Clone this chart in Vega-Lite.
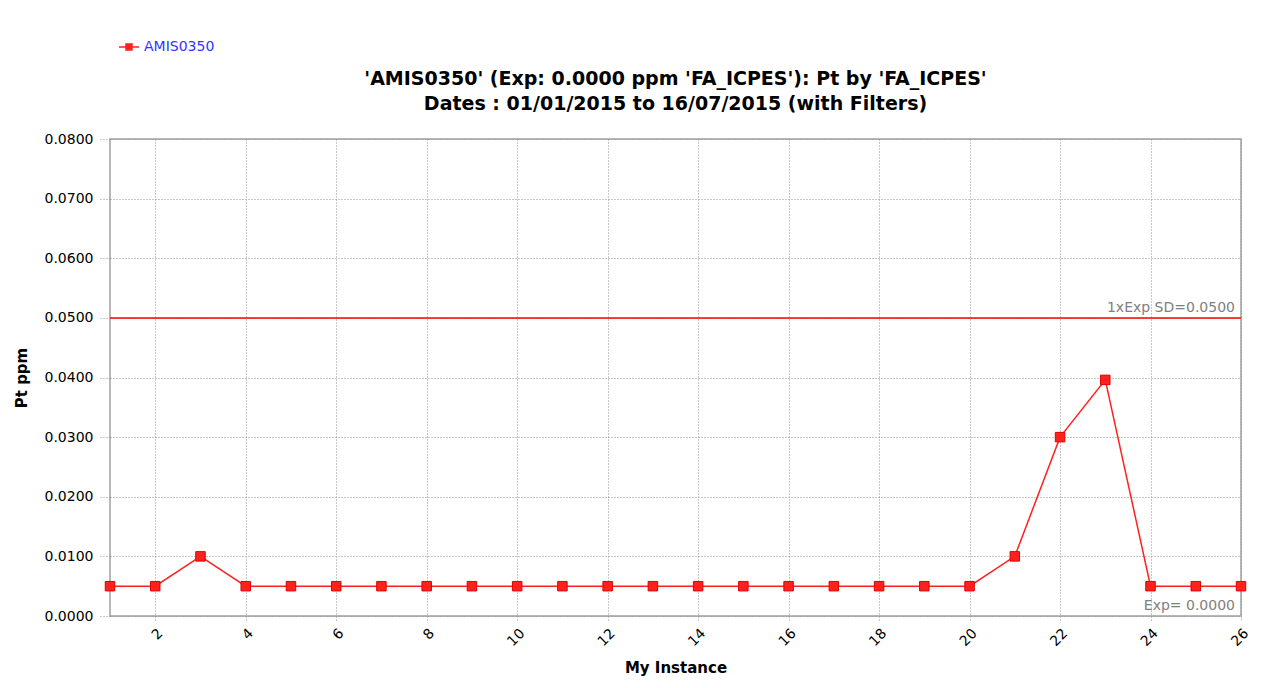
{
  "$schema": "https://vega.github.io/schema/vega-lite/v6.json",
  "autosize": "none",
  "width": 1131,
  "height": 477,
  "padding": {"left": 110, "top": 139, "right": 46, "bottom": 72},
  "background": "white",
  "config": {
    "font": "DejaVu Sans",
    "view": {"stroke": "#a0a0a0", "strokeWidth": 1.5},
    "axis": {"labelFont": "DejaVu Sans", "titleFont": "DejaVu Sans"}
  },
  "title": {
    "text": ["'AMIS0350' (Exp: 0.0000 ppm 'FA_ICPES'): Pt by 'FA_ICPES'", "Dates : 01/01/2015 to 16/07/2015 (with Filters)"],
    "font": "DejaVu Sans",
    "fontSize": 19,
    "fontWeight": "bold",
    "color": "#000000",
    "anchor": "middle",
    "lineHeight": 25,
    "offset": 28,
    "dy": 106
  },
  "datasets": {
    "points": [
      {"instance": 1, "pt": 0.005, "series": "AMIS0350"},
      {"instance": 2, "pt": 0.005, "series": "AMIS0350"},
      {"instance": 3, "pt": 0.01, "series": "AMIS0350"},
      {"instance": 4, "pt": 0.005, "series": "AMIS0350"},
      {"instance": 5, "pt": 0.005, "series": "AMIS0350"},
      {"instance": 6, "pt": 0.005, "series": "AMIS0350"},
      {"instance": 7, "pt": 0.005, "series": "AMIS0350"},
      {"instance": 8, "pt": 0.005, "series": "AMIS0350"},
      {"instance": 9, "pt": 0.005, "series": "AMIS0350"},
      {"instance": 10, "pt": 0.005, "series": "AMIS0350"},
      {"instance": 11, "pt": 0.005, "series": "AMIS0350"},
      {"instance": 12, "pt": 0.005, "series": "AMIS0350"},
      {"instance": 13, "pt": 0.005, "series": "AMIS0350"},
      {"instance": 14, "pt": 0.005, "series": "AMIS0350"},
      {"instance": 15, "pt": 0.005, "series": "AMIS0350"},
      {"instance": 16, "pt": 0.005, "series": "AMIS0350"},
      {"instance": 17, "pt": 0.005, "series": "AMIS0350"},
      {"instance": 18, "pt": 0.005, "series": "AMIS0350"},
      {"instance": 19, "pt": 0.005, "series": "AMIS0350"},
      {"instance": 20, "pt": 0.005, "series": "AMIS0350"},
      {"instance": 21, "pt": 0.01, "series": "AMIS0350"},
      {"instance": 22, "pt": 0.03, "series": "AMIS0350"},
      {"instance": 23, "pt": 0.0396, "series": "AMIS0350"},
      {"instance": 24, "pt": 0.005, "series": "AMIS0350"},
      {"instance": 25, "pt": 0.005, "series": "AMIS0350"},
      {"instance": 26, "pt": 0.005, "series": "AMIS0350"}
    ],
    "refs": [
      {"instance": 26, "pt": 0.05, "label": "1xExp SD=0.0500"},
      {"instance": 26, "pt": 0.0, "label": "Exp= 0.0000"}
    ]
  },
  "layer": [
    {
      "data": {"name": "points"},
      "mark": {"type": "line", "strokeWidth": 1.5, "clip": false},
      "encoding": {
        "x": {
          "field": "instance", "type": "quantitative",
          "scale": {"domain": [1, 26], "nice": false, "zero": false},
          "axis": {
            "values": [2, 4, 6, 8, 10, 12, 14, 16, 18, 20, 22, 24, 26],
            "title": "My Instance",
            "titleFontSize": 15, "titleFontWeight": "bold", "titleColor": "#000",
            "titleY": 44,
            "labelAngle": -45, "labelFontSize": 14, "labelColor": "#000",
            "labelPadding": 4,
            "domain": false,
            "tickDash": [1, 2], "tickColor": "#909090", "tickSize": 6,
            "grid": true, "gridDash": [1, 2], "gridColor": "#909090", "gridOpacity": 1
          }
        },
        "y": {
          "field": "pt", "type": "quantitative",
          "scale": {"domain": [0, 0.08], "nice": false},
          "axis": {
            "values": [0, 0.01, 0.02, 0.03, 0.04, 0.05, 0.06, 0.07, 0.08],
            "format": ".4f",
            "title": "Pt ppm",
            "titleFontSize": 15, "titleFontWeight": "bold", "titleColor": "#000",
            "titleX": -81,
            "labelFontSize": 14, "labelColor": "#000",
            "labelPadding": 7,
            "domain": false,
            "tickDash": [1, 2], "tickColor": "#909090", "tickSize": 10,
            "grid": true, "gridDash": [1, 2], "gridColor": "#909090", "gridOpacity": 1
          }
        },
        "color": {
          "field": "series", "type": "nominal",
          "scale": {"range": ["#ff2020"]},
          "legend": {
            "title": null,
            "orient": "none",
            "legendX": 8,
            "legendY": -103,
            "symbolType": "M-1,0H-0.3M0.3,0H1M-0.3,-0.3H0.3V0.3H-0.3Z",
            "symbolSize": 400,
            "symbolStrokeWidth": 1.5,
            "symbolStrokeColor": "#ff2020",
            "symbolFillColor": "#ff0000",
            "symbolOpacity": 1,
            "labelColor": "#3333ff",
            "labelFontSize": 14,
            "labelFont": "DejaVu Sans",
            "labelOffset": 4
          }
        }
      }
    },
    {
      "data": {"name": "refs"},
      "transform": [{"filter": "datum.pt > 0"}],
      "mark": {"type": "rule", "color": "#ff0000", "strokeWidth": 1.5},
      "encoding": {
        "y": {"field": "pt", "type": "quantitative"}
      }
    },
    {
      "data": {"name": "refs"},
      "mark": {"type": "text", "align": "right", "baseline": "bottom", "dx": -6, "dy": -3, "fontSize": 14, "color": "#808080", "font": "DejaVu Sans"},
      "encoding": {
        "x": {"field": "instance", "type": "quantitative"},
        "y": {"field": "pt", "type": "quantitative"},
        "text": {"field": "label"}
      }
    },
    {
      "data": {"name": "points"},
      "mark": {"type": "point", "shape": "square", "filled": true, "size": 90, "opacity": 1, "stroke": "#e00000", "strokeWidth": 1, "clip": false},
      "encoding": {
        "x": {"field": "instance", "type": "quantitative"},
        "y": {"field": "pt", "type": "quantitative"},
        "color": {
          "field": "series", "type": "nominal",
          "scale": {"range": ["#ff2020"]}
        }
      }
    }
  ]
}
